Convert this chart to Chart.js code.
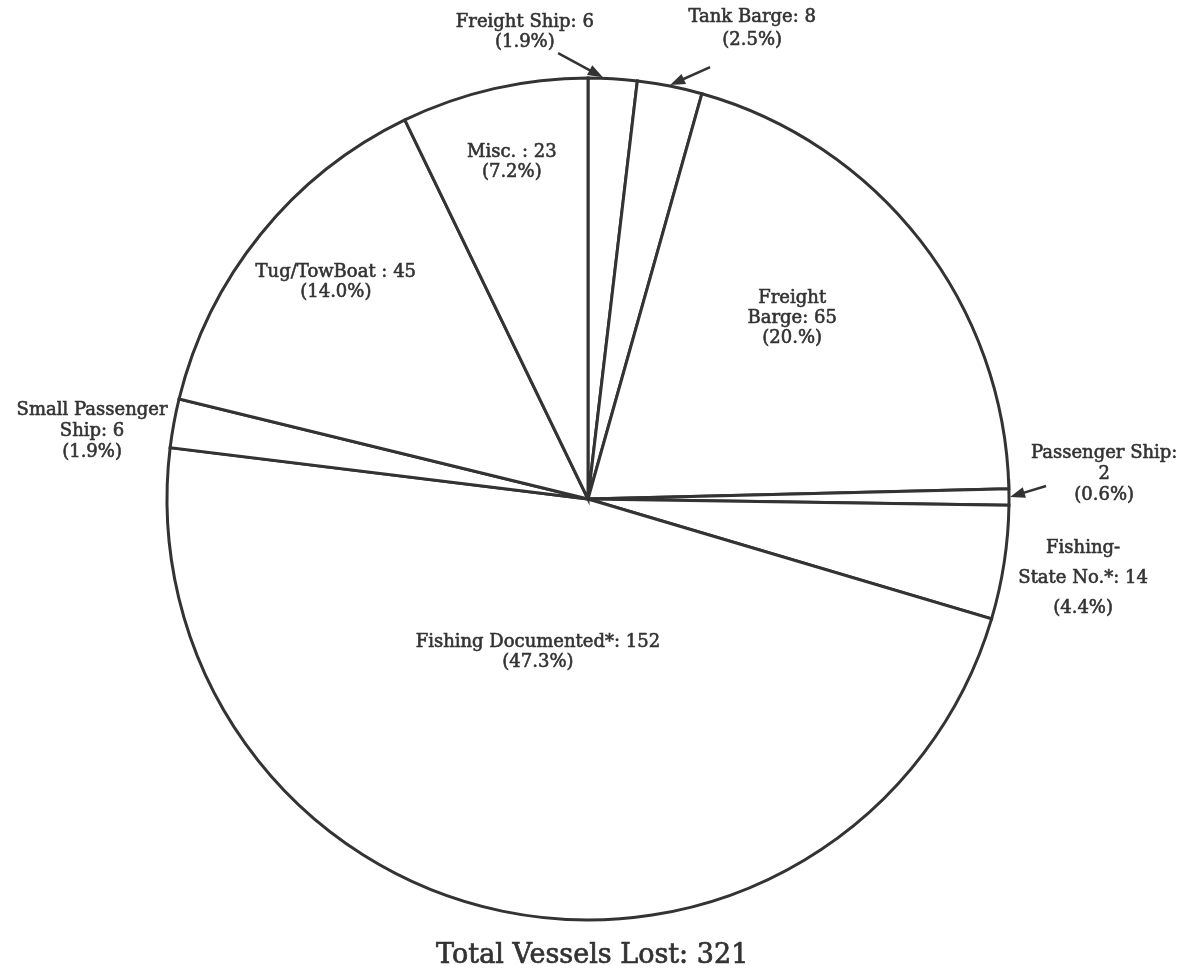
<!DOCTYPE html>
<html>
<head>
<meta charset="utf-8">
<script src="https://cdn.jsdelivr.net/npm/chart.js@4/dist/chart.umd.min.js"></script>
<style>
  body { margin: 0; background: #fff; }
  canvas { display: block; }
</style>
</head>
<body>
<canvas id="lossChart" width="1188" height="975"></canvas>
<script>
// vessel types, clockwise from 12 o'clock
const categories = ['Freight Ship', 'Tank Barge', 'Freight Barge', 'Passenger Ship', 'Fishing-State No.*',
                    'Fishing Documented*', 'Small Passenger Ship', 'Tug/TowBoat', 'Misc.'];
const vesselsLost = [6, 8, 65, 2, 14, 152, 6, 45, 23];
const percentText = ['1.9%', '2.5%', '20.%', '0.6%', '4.4%', '47.3%', '1.9%', '14.0%', '7.2%'];
// how each name is broken over lines in the label ('' = value on its own line)
const labelNames = [['Freight Ship'], ['Tank Barge'], ['Freight', 'Barge'], ['Passenger Ship', ''],
                    ['Fishing-', 'State No.*'], ['Fishing Documented*'], ['Small Passenger', 'Ship'],
                    ['Tug/TowBoat '], ['Misc. ']];
const totalText = 'Total Vessels Lost: 321';

const INK = '#333';
const FONT = '18px "DejaVu Serif", "Liberation Serif", serif';

// label placement, in units of the pie radius from the pie centre
const labelPos = [
    { x: -0.150, y: -1.133, lh: 20, arrow: { x: -0.071, y: -1.059, t: 0.3 } },
    { x: 0.390, y: -1.145, lh: 23, arrow: { x: 0.290, y: -1.026, t: 0.5 } },
    { x: 0.485, y: -0.477, lh: 20 },
    { x: 1.226, y: -0.109, lh: 21, arrow: { x: 1.088, y: -0.031, t: 0.5 } },
    { x: 1.176, y: 0.116, lh: 30 },
    { x: -0.119, y: 0.340, lh: 20 },
    { x: -1.178, y: -0.211, lh: 21 },
    { x: -0.599, y: -0.539, lh: 20 },
    { x: -0.181, y: -0.824, lh: 20 }
];

function buildLines(i){
    let names = labelNames[i].slice();
    let last = names.length - 1;
    if(names[last] === ''){
        names[last - 1] += ':';
        names[last] = String(vesselsLost[i]);
    } else {
        names[last] += ': ' + vesselsLost[i];
    }
    names.push('(' + percentText[i] + ')');
    return names;
}

function drawArrow(ctx, x0, y0, x1, y1){
    let ang = Math.atan2(y1 - y0, x1 - x0);
    let head = 15, half = 5.5;
    ctx.beginPath();
    ctx.moveTo(x0, y0);
    ctx.lineTo(x1 - Math.cos(ang) * head * 0.7, y1 - Math.sin(ang) * head * 0.7);
    ctx.stroke();
    ctx.beginPath();
    ctx.moveTo(x1, y1);
    ctx.lineTo(x1 - Math.cos(ang) * head - Math.sin(ang) * half, y1 - Math.sin(ang) * head + Math.cos(ang) * half);
    ctx.lineTo(x1 - Math.cos(ang) * head + Math.sin(ang) * half, y1 - Math.sin(ang) * head - Math.cos(ang) * half);
    ctx.closePath();
    ctx.fill();
}

// scanned print looks heavier than the plain face, so stroke it a little
function inkText(ctx, t, x, y){
    ctx.fillText(t, x, y);
    ctx.strokeText(t, x, y);
}

const sliceLabels = {
    id: 'sliceLabels',
    afterDraw(chart){
        const ctx = chart.ctx;
        const arcs = chart.getDatasetMeta(0).data;
        const cx = arcs[0].x, cy = arcs[0].y, r = arcs[0].outerRadius;
        ctx.save();
        ctx.fillStyle = INK;
        ctx.strokeStyle = INK;
        ctx.font = FONT;
        ctx.textAlign = 'center';
        ctx.textBaseline = 'middle';
        arcs.forEach((arc, i) => {
            let p = labelPos[i];
            let lines = buildLines(i);
            ctx.lineWidth = 0.6;
            lines.forEach((t, k) => {
                inkText(ctx, t, cx + p.x * r, cy + p.y * r + k * p.lh);
            });
            if(p.arrow){
                let a = arc.startAngle + (arc.endAngle - arc.startAngle) * p.arrow.t;
                ctx.lineWidth = 2.5;
                drawArrow(ctx, cx + p.arrow.x * r, cy + p.arrow.y * r,
                          cx + Math.cos(a) * (r + 1), cy + Math.sin(a) * (r + 1));
            }
        });
        ctx.font = '27px "DejaVu Serif", "Liberation Serif", serif';
        ctx.lineWidth = 0.7;
        inkText(ctx, totalText, cx + 0.01 * r, cy + 1.086 * r);
        ctx.restore();
    }
};

new Chart(document.getElementById('lossChart'), {
    type: 'pie',
    data: {
        labels: categories,
        datasets: [{
            data: vesselsLost,
            backgroundColor: '#fff',
            borderColor: INK,
            borderWidth: 3,
            borderJoinStyle: 'miter'
        }]
    },
    options: {
        responsive: false,
        animation: false,
        radius: 421,
        layout: { padding: { top: 23, right: 12 } },
        plugins: {
            legend: { display: false },
            tooltip: { enabled: false }
        }
    },
    plugins: [sliceLabels]
});
</script>
</body>
</html>
